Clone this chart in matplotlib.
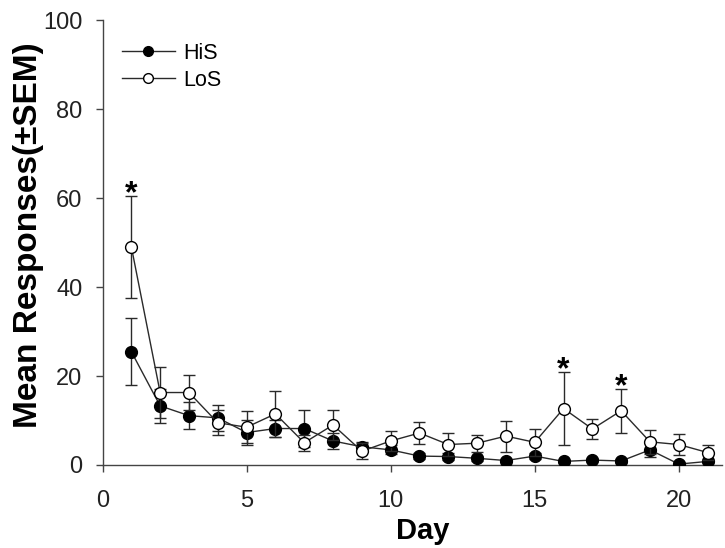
import numpy as np
from matplotlib import pyplot as plt
from matplotlib.lines import Line2D

plt.rcParams['font.family'] = ['Liberation Sans', 'DejaVu Sans']

days = np.arange(1, 22)

his_mean = [25.5, 13.3, 11.1, 10.6, 7.3, 8.2, 8.2, 5.4, 4.1, 3.4, 2.0,
            1.9, 1.5, 1.0, 2.0, 0.8, 1.1, 0.9, 3.4, 0.2, 0.8]
his_sem = [7.6, 3.9, 3.1, 3.0, 2.8, 2.0, 4.1, 1.9, 1.0, 1.0, 0.6,
           0.8, 0.6, 0.4, 0.6, 0.4, 0.4, 0.4, 1.5, 0.4, 0.4]

los_mean = [49.1, 16.3, 16.3, 9.5, 8.5, 11.5, 5.0, 9.0, 3.1, 5.4, 7.2,
            4.6, 4.9, 6.5, 5.1, 12.7, 8.1, 12.2, 5.2, 4.6, 2.8]
los_sem = [11.5, 5.7, 3.9, 2.8, 3.6, 5.2, 1.8, 3.4, 1.8, 2.3, 2.5,
           2.5, 1.9, 3.5, 3.1, 8.2, 2.2, 4.9, 2.7, 2.3, 1.6]

# days where the groups differ
sig_days = [1, 16, 18]

fig = plt.gcf()
fig.set_size_inches(7.25, 5.48)
ax = fig.add_axes([0.1414, 0.1515, 0.8545, 0.8111])

line_col = "#2a2a2a"
ax.errorbar(days, his_mean, yerr=his_sem, color=line_col, lw=1,
            marker="o", ms=8.5, mfc="black", mec="black",
            ecolor=line_col, elinewidth=1, capsize=4.5, capthick=1,
            zorder=3)
ax.errorbar(days, los_mean, yerr=los_sem, color=line_col, lw=1,
            marker="o", ms=8.5, mfc="white", mec="black", mew=1,
            ecolor=line_col, elinewidth=1, capsize=4.5, capthick=1,
            zorder=4)

for d in sig_days:
    i = d - 1
    top = los_mean[i] + los_sem[i]
    ax.text(d, top - 1.4, "*", ha="center", va="baseline",
            fontsize=23, fontweight="bold")

ax.set_xlim(0, 21.5)
ax.set_ylim(0, 100)
ax.set_xticks([0, 5, 10, 15, 20])
ax.set_yticks([0, 20, 40, 60, 80, 100])
ax.tick_params(direction="out", length=5, width=1, labelsize=17,
               colors="#444444", labelcolor="#222222")
ax.tick_params(axis="x", pad=13)
ax.tick_params(axis="y", pad=9.5)
ax.spines["top"].set_visible(False)
ax.spines["right"].set_visible(False)
for s in ("left", "bottom"):
    ax.spines[s].set_color("#444444")
    ax.spines[s].set_linewidth(1)

ax.set_xlabel("Day", fontsize=21, fontweight="bold")
ax.xaxis.set_label_coords(0.5166, -0.117)
ax.set_ylabel("Mean Responses(±SEM)", fontsize=24, fontweight="bold")
ax.yaxis.set_label_coords(-0.094, 0.518)

handles = [
    Line2D([], [], color=line_col, lw=1, marker="o", ms=7,
           mfc="black", mec="black"),
    Line2D([], [], color=line_col, lw=1, marker="o", ms=7,
           mfc="white", mec="black"),
]
ax.legend(handles, ["HiS", "LoS"], loc="upper left",
          bbox_to_anchor=(0.0, 0.994), frameon=False,
          fontsize=15.5, handlelength=2.45, handletextpad=0.42,
          labelspacing=0.3)

fig.savefig("out.png", dpi=100)
